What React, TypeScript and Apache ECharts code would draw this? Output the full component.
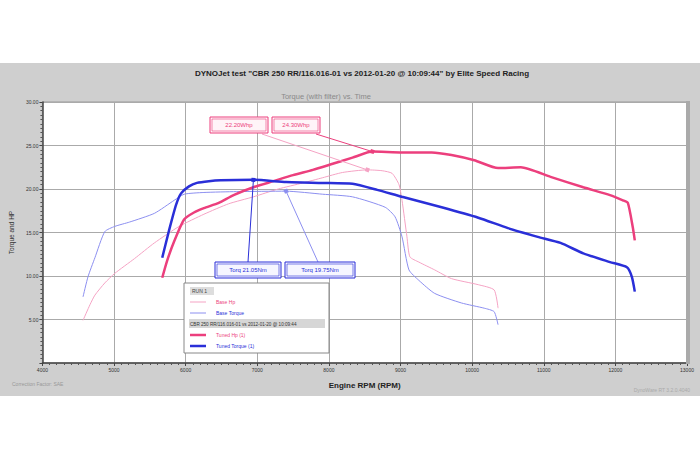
import React, { useEffect, useRef } from "react";
import * as echarts from "echarts";

// ---- data ----
const rpmTicks = [4000, 5000, 6000, 7000, 8000, 9000, 10000, 11000, 12000, 13000];

const baseRpm = [4567, 4664, 4733, 4871, 5010, 5286, 5563, 5909, 6255, 6600, 6946, 7292, 7638, 7914, 8191, 8537, 8744, 8882, 8979, 9021, 9090, 9131, 9256, 9477, 9712, 10086, 10307, 10362];
const baseHp = [4.9, 6.7, 7.8, 9.2, 10.3, 12.0, 13.8, 15.7, 17.1, 18.3, 19.1, 20.0, 20.7, 21.3, 21.9, 22.2, 22.1, 21.8, 20.5, 18.7, 14.5, 12.2, 11.6, 10.7, 9.7, 9.0, 8.4, 6.3];

const baseTqRpm = [4567, 4636, 4733, 4871, 5010, 5217, 5563, 5840, 5978, 6255, 6711, 7402, 7914, 8329, 8786, 8924, 9021, 9118, 9256, 9477, 9851, 10169, 10307, 10362];
const baseTq = [7.6, 9.9, 12.1, 15.1, 15.7, 16.2, 17.2, 18.7, 19.4, 19.6, 19.7, 19.75, 19.4, 19.1, 17.9, 16.8, 14.5, 10.7, 9.5, 8.0, 6.9, 6.3, 5.9, 4.4];

const tunedRpm = [5673, 5743, 5840, 5978, 6116, 6255, 6462, 6669, 6946, 7223, 7499, 7776, 8053, 8329, 8606, 9021, 9436, 9712, 10030, 10362, 10680, 11095, 11552, 11925, 12105, 12174, 12243, 12271];
const tunedHp = [9.8, 11.8, 14.0, 16.5, 17.3, 17.8, 18.4, 19.3, 20.2, 20.9, 21.6, 22.2, 22.9, 23.6, 24.3, 24.2, 24.2, 23.9, 23.3, 22.4, 22.5, 21.4, 20.2, 19.3, 18.7, 18.4, 15.6, 14.1];

const tunedTqRpm = [5673, 5770, 5867, 5936, 6047, 6158, 6324, 6490, 6946, 7402, 7914, 8329, 8675, 9021, 9574, 10086, 10500, 10916, 11234, 11552, 11925, 12161, 12230, 12271];
const tunedTq = [12.1, 15.3, 18.2, 19.5, 20.3, 20.7, 20.9, 21.0, 21.05, 20.8, 20.7, 20.6, 19.9, 19.1, 17.9, 16.7, 15.5, 14.5, 13.8, 12.6, 11.6, 11.0, 9.9, 8.2];

const titleText = 'DYNOJet test "CBR 250 RR/116.016-01 vs 2012-01-20 @ 10:09:44" by Elite Speed Racing';
const subTitleText = "Torque (with filter) vs. Time";
const runName = "CBR 250 RR/116.016-01 vs 2012-01-20 @ 10:09:44";

const PINK = "#ec3f7d";
const PINK_L = "#f5a3c4";
const BLUE = "#2a2fd8";
const BLUE_L = "#8c8ff0";
const FONT = "Liberation Sans, Arial, sans-serif";

function pairs(x: number[], y: number[]) {
  return x.map((v, i) => [v, y[i]]);
}
function peak(x: number[], y: number[]) {
  let k = 0;
  y.forEach((v, i) => { if (v > y[k]) k = i; });
  return [x[k], y[k]];
}

export default function App() {
  const ref = useRef<HTMLDivElement>(null);
  useEffect(() => {
    document.body.style.margin = "0";
    const chart = echarts.init(ref.current!, null, { renderer: "svg", width: 700, height: 465 });
    const pBaseHp = peak(baseRpm, baseHp);
    const pTunedHp = peak(tunedRpm, tunedHp);
    const pBaseTq = peak(baseTqRpm, baseTq);
    const pTunedTq = peak(tunedTqRpm, tunedTq);

    const connector = (from: { x: number; y: number }, to: number[], color: string) => ({
      silent: true,
      symbol: ["none", "rect"],
      symbolSize: 4,
      label: { show: false },
      lineStyle: { color, width: 1, type: "solid" },
      data: [[from, { coord: to }]],
    });

    const box = (x: number, y: number, w: number, text: string, color: string, fill: string) => [
      { type: "rect", z: 100, shape: { x, y, width: w, height: 16 }, style: { fill, stroke: color, lineWidth: 1 } },
      { type: "rect", z: 100, shape: { x: x + 2, y: y + 2, width: w - 4, height: 12 }, style: { fill: "none", stroke: color, lineWidth: 0.6 } },
      { type: "text", z: 101, x: x + w / 2, y: y + 8, style: { text, fill: color, font: `6px ${FONT}`, align: "center", verticalAlign: "middle" } },
    ];

    const lx = 184, ly = 283;
    const legendG = [
      { type: "rect", z: 100, shape: { x: lx, y: ly, width: 145, height: 70 }, style: { fill: "#fff", stroke: "#888", lineWidth: 1 } },
      { type: "rect", z: 100, shape: { x: lx + 6, y: ly + 4, width: 24, height: 8 }, style: { fill: "#ddd" } },
      { type: "text", z: 101, x: lx + 8, y: ly + 8, style: { text: "RUN 1", fill: "#444", font: `5px ${FONT}`, verticalAlign: "middle" } },
      { type: "line", z: 101, shape: { x1: lx + 6, y1: ly + 19, x2: lx + 22, y2: ly + 19 }, style: { stroke: PINK_L, lineWidth: 1 } },
      { type: "text", z: 101, x: lx + 32, y: ly + 19, style: { text: "Base Hp", fill: PINK, font: `5px ${FONT}`, verticalAlign: "middle" } },
      { type: "line", z: 101, shape: { x1: lx + 6, y1: ly + 30, x2: lx + 22, y2: ly + 30 }, style: { stroke: BLUE_L, lineWidth: 1 } },
      { type: "text", z: 101, x: lx + 32, y: ly + 30, style: { text: "Base Torque", fill: BLUE, font: `5px ${FONT}`, verticalAlign: "middle" } },
      { type: "rect", z: 100, shape: { x: lx + 5, y: ly + 36, width: 136, height: 9 }, style: { fill: "#d6d6d6" } },
      { type: "text", z: 101, x: lx + 6, y: ly + 41, style: { text: runName, fill: "#333", font: `4.6px ${FONT}`, verticalAlign: "middle" } },
      { type: "line", z: 101, shape: { x1: lx + 6, y1: ly + 52, x2: lx + 22, y2: ly + 52 }, style: { stroke: PINK, lineWidth: 2.5 } },
      { type: "text", z: 101, x: lx + 32, y: ly + 52, style: { text: "Tuned Hp (1)", fill: PINK, font: `5px ${FONT}`, verticalAlign: "middle" } },
      { type: "line", z: 101, shape: { x1: lx + 6, y1: ly + 63, x2: lx + 22, y2: ly + 63 }, style: { stroke: BLUE, lineWidth: 2.5 } },
      { type: "text", z: 101, x: lx + 32, y: ly + 63, style: { text: "Tuned Torque (1)", fill: BLUE, font: `5px ${FONT}`, verticalAlign: "middle" } },
    ];

    chart.setOption({
      animation: false,
      backgroundColor: "transparent",
      textStyle: { fontFamily: FONT },
      grid: { left: 37, top: 102, width: 650, height: 261, show: true, backgroundColor: "#fff", borderColor: "#999", borderWidth: 1 },
      xAxis: {
        type: "value", min: 4000, max: 13000, interval: 1000,
        name: "Engine RPM (RPM)", nameLocation: "middle", nameGap: 18,
        nameTextStyle: { fontSize: 8, fontWeight: "bold", color: "#222" },
        axisLine: { show: true, lineStyle: { color: "#444", width: 1.5 } },
        axisTick: { show: true, length: 3, lineStyle: { color: "#444" } },
        minorTick: { show: true, splitNumber: 10, length: 2, lineStyle: { color: "#555" } },
        axisLabel: { fontSize: 5, color: "#333", margin: 4, formatter: (v: number) => (rpmTicks.includes(v) ? String(v) : "") },
        splitLine: { show: true, lineStyle: { color: "#aaa", width: 1 } },
      },
      yAxis: {
        type: "value", min: 0, max: 30, interval: 5,
        name: "Torque and HP", nameLocation: "middle", nameGap: 26,
        nameTextStyle: { fontSize: 6.5, color: "#333" },
        axisLine: { show: true, lineStyle: { color: "#444", width: 1.5 } },
        axisTick: { show: true, length: 3, lineStyle: { color: "#444" } },
        minorTick: { show: true, splitNumber: 10, length: 2, lineStyle: { color: "#555" } },
        axisLabel: { fontSize: 5, color: "#333", margin: 4, formatter: (v: number) => (v === 0 ? "" : v.toFixed(2)) },
        splitLine: { show: true, lineStyle: { color: "#aaa", width: 1 } },
      },
      series: [
        {
          name: "Base Hp", type: "line", data: pairs(baseRpm, baseHp), showSymbol: false, smooth: 0.2,
          lineStyle: { color: PINK_L, width: 1 }, z: 3,
          markLine: connector({ x: 262, y: 134 }, pBaseHp, PINK_L),
        },
        {
          name: "Base Torque", type: "line", data: pairs(baseTqRpm, baseTq), showSymbol: false, smooth: 0.2,
          lineStyle: { color: BLUE_L, width: 1 }, z: 3,
          markLine: connector({ x: 318, y: 262 }, pBaseTq, BLUE_L),
        },
        {
          name: "Tuned Hp (1)", type: "line", data: pairs(tunedRpm, tunedHp), showSymbol: false, smooth: 0.2,
          lineStyle: { color: PINK, width: 2.5 }, z: 4,
          markLine: connector({ x: 316, y: 134 }, pTunedHp, PINK),
        },
        {
          name: "Tuned Torque (1)", type: "line", data: pairs(tunedTqRpm, tunedTq), showSymbol: false, smooth: 0.2,
          lineStyle: { color: BLUE, width: 2.5 }, z: 4,
          markLine: connector({ x: 248, y: 262 }, pTunedTq, BLUE),
        },
      ],
      graphic: [
        { type: "text", z: 101, x: 362, y: 73, style: { text: titleText, fill: "#222", font: `bold 8px ${FONT}`, align: "center", verticalAlign: "middle" } },
        { type: "text", z: 101, x: 326, y: 96, style: { text: subTitleText, fill: "#8a8a8a", font: `7.5px ${FONT}`, align: "center", verticalAlign: "middle" } },
        { type: "rect", z: 99, shape: { x: 686, y: 101, width: 4, height: 263 }, style: { fill: "#aaa" } },
        { type: "text", z: 101, x: 12, y: 384, style: { text: "Correction Factor: SAE", fill: "#999", font: `5px ${FONT}`, verticalAlign: "middle" } },
        { type: "text", z: 101, x: 690, y: 390, style: { text: "DynoWare RT 3.2.0.4040", fill: "#aaa", font: `5px ${FONT}`, align: "right", verticalAlign: "middle" } },
        ...box(210, 117, 58, `${pBaseHp[1].toFixed(2)}Whp`, PINK, "#fff4f8"),
        ...box(272, 117, 48, `${pTunedHp[1].toFixed(2)}Whp`, PINK, "#fff4f8"),
        ...box(215, 262, 66, `Torq ${pTunedTq[1].toFixed(2)}Nm`, BLUE, "#f6f6ff"),
        ...box(285, 262, 70, `Torq ${pBaseTq[1].toFixed(2)}Nm`, BLUE, "#f6f6ff"),
        ...legendG,
      ],
    });
    return () => chart.dispose();
  }, []);
  return (
    <div
      ref={ref}
      style={{
        width: 700,
        height: 465,
        position: "absolute",
        left: 0,
        top: 0,
        background: "linear-gradient(to bottom, #fff 0px, #fff 63px, #cfcfcf 63px, #cfcfcf 396px, #fff 396px)",
      }}
    />
  );
}
